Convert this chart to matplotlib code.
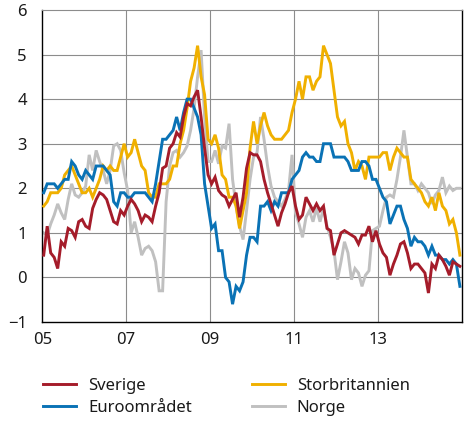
import matplotlib
matplotlib.use("Agg")
import matplotlib.pyplot as plt
import numpy as np

plt.rcParams['font.family'] = ['Noto Sans', 'DejaVu Sans']

years = list(range(2005, 2015))
tick_years = [2005, 2007, 2009, 2011, 2013]
tick_labels = ['05', '07', '09', '11', '13']

sverige = [
    0.5, 1.15, 0.55, 0.45, 0.2, 0.8, 0.7, 1.1, 1.05, 0.9, 1.25, 1.3,
    1.15, 1.1, 1.55, 1.75, 1.9, 1.85, 1.75, 1.5, 1.25, 1.2, 1.5, 1.4,
    1.6, 1.75, 1.65, 1.5, 1.25, 1.4, 1.35, 1.25, 1.6, 1.9, 2.45, 2.5,
    2.9, 3.0, 3.25, 3.15, 3.6, 3.9, 3.85, 4.05, 4.2, 3.6, 2.9, 2.3,
    2.1, 2.25, 1.95, 1.85, 1.8, 1.6, 1.75, 1.9, 1.35, 1.8, 2.45, 2.8,
    2.75, 2.75, 2.6, 2.2, 1.9, 1.65, 1.4, 1.15, 1.45, 1.65, 1.9, 2.05,
    1.6, 1.3, 1.4, 1.8, 1.65, 1.5, 1.65, 1.5, 1.6, 1.1, 1.05, 0.5,
    0.75, 1.0, 1.05, 1.0, 0.95, 0.9, 0.75, 0.95, 0.95, 1.15, 0.8, 1.05,
    0.75, 0.55, 0.45, 0.05, 0.3, 0.5, 0.75, 0.8, 0.55, 0.2, 0.3, 0.3,
    0.2, 0.1, -0.35, 0.3, 0.2, 0.5, 0.4, 0.25, 0.05, 0.35, 0.3, 0.25,
]

euro = [
    1.9, 2.1, 2.1, 2.1, 2.0, 2.1, 2.2, 2.2, 2.6, 2.5, 2.3, 2.2,
    2.4, 2.3, 2.2, 2.5, 2.5, 2.5, 2.4, 2.3, 1.7, 1.6, 1.9, 1.9,
    1.8, 1.8, 1.9, 1.9, 1.9, 1.9, 1.8, 1.7, 2.1, 2.6, 3.1, 3.1,
    3.2, 3.3, 3.6, 3.3, 3.7, 4.0, 4.0, 3.8, 3.6, 3.2, 2.1, 1.6,
    1.1, 1.2, 0.6, 0.6, 0.0, -0.1, -0.6, -0.2, -0.3, -0.1, 0.5, 0.9,
    0.9, 0.8, 1.6, 1.6, 1.7, 1.5, 1.7, 1.6, 1.9, 1.9, 1.9, 2.2,
    2.3, 2.4, 2.7, 2.8, 2.7, 2.7, 2.6, 2.6, 3.0, 3.0, 3.0, 2.7,
    2.7, 2.7, 2.7, 2.6, 2.4, 2.4, 2.4, 2.6, 2.6, 2.5, 2.2, 2.2,
    2.0, 1.8, 1.7, 1.2, 1.4, 1.6, 1.6, 1.3, 1.1, 0.7, 0.9, 0.8,
    0.8, 0.7, 0.5, 0.7, 0.5, 0.5, 0.4, 0.4, 0.3, 0.4, 0.3, -0.2,
]

storbritannien = [
    1.6, 1.7, 1.9, 1.9, 1.9, 2.0, 2.3, 2.4, 2.5, 2.3, 2.1, 1.9,
    1.9, 2.0, 1.8, 2.0, 2.2, 2.5, 2.4, 2.5, 2.4, 2.4, 2.7, 3.0,
    2.7, 2.8, 3.1, 2.8, 2.5, 2.4, 1.9, 1.8, 1.8, 2.1, 2.1, 2.1,
    2.2, 2.5, 2.5, 3.0, 3.3, 3.8, 4.4, 4.7, 5.2, 4.5, 4.1, 3.1,
    3.0, 3.2, 2.9, 2.3, 2.2, 1.8, 1.8, 1.6, 1.1, 1.5, 1.9, 2.9,
    3.5, 3.0, 3.4, 3.7, 3.4, 3.2, 3.1, 3.1, 3.1, 3.2, 3.3, 3.7,
    4.0, 4.4, 4.0, 4.5, 4.5, 4.2, 4.4, 4.5, 5.2, 5.0, 4.8, 4.2,
    3.6, 3.4, 3.5, 3.0, 2.8, 2.4, 2.6, 2.5, 2.2, 2.7, 2.7, 2.7,
    2.7, 2.8, 2.8, 2.4, 2.7, 2.9, 2.8, 2.7, 2.7, 2.2, 2.1, 2.0,
    1.9, 1.7, 1.6, 1.8, 1.5, 1.9, 1.6, 1.5, 1.2, 1.3, 1.0, 0.5,
]

norge = [
    1.0, 0.95, 1.2, 1.4, 1.65, 1.45, 1.3, 1.75, 2.1, 1.85, 1.8, 1.9,
    2.05, 2.75, 2.4, 2.85, 2.6, 2.4, 2.1, 2.4, 2.95, 3.0, 2.85, 2.35,
    1.95, 1.0, 1.25, 0.9, 0.5, 0.65, 0.7, 0.6, 0.35, -0.3, -0.3, 1.7,
    2.5, 2.8, 2.85, 2.7, 2.8, 2.95, 3.3, 3.8, 4.5, 5.1, 3.6, 2.6,
    2.6, 2.85, 2.55, 2.95, 2.9, 3.45, 2.2, 1.6, 1.15, 0.85, 1.5, 2.2,
    2.7, 2.8, 3.6, 3.1, 2.5, 2.05, 1.8, 1.7, 1.6, 1.75, 1.95, 2.75,
    1.45, 1.2, 0.9, 1.35, 1.5, 1.25, 1.55, 1.25, 1.55, 1.15, 0.9, 0.6,
    -0.05, 0.35, 0.8, 0.55, -0.05, 0.2, 0.1, -0.2, 0.05, 0.15, 1.05, 1.1,
    1.15, 1.5, 1.8, 1.85, 1.8, 2.2, 2.7, 3.3, 2.7, 2.1, 2.1, 1.95,
    2.1, 2.0, 1.9, 1.65, 1.85, 1.95, 2.25, 1.9, 2.05, 1.95, 2.0, 2.0,
]

n = len(euro)
x = years[0] + (np.arange(n) + 0.4) / 12.0

fig = plt.figure(figsize=(4.70, 4.22), dpi=100)
ax = fig.add_axes([42.3 / 470, 1 - 322 / 422, (462 - 42.3) / 470, (322 - 10) / 422])

grid_c = '#8c8c8c'
for yv in range(0, 6):
    ax.axhline(yv, color=grid_c, lw=0.8, zorder=1)
for xv in tick_years[1:]:
    ax.axvline(xv, color=grid_c, lw=0.8, zorder=1)

lw = 2.1
ax.plot(x, norge, color='#c0c0c0', lw=lw, label='Norge', zorder=2, solid_joinstyle='miter')
ax.plot(x, storbritannien, color='#f0b000', lw=lw, label='Storbritannien', zorder=3, solid_joinstyle='miter')
ax.plot(x, euro, color='#0a72b5', lw=lw, label='Euroområdet', zorder=4, solid_joinstyle='miter')
ax.plot(x, sverige, color='#a51c2a', lw=lw, label='Sverige', zorder=5, solid_joinstyle='miter')

ax.set_xlim(2005, 2015)
ax.set_ylim(-1, 6)
ax.set_xticks(tick_years)
ax.set_xticklabels(tick_labels)
ax.set_yticks(range(-1, 7))
ax.tick_params(axis='both', length=0, labelsize=12, colors='#1a1a1a')
ax.tick_params(axis='y', pad=11)
ax.tick_params(axis='x', pad=7.5)

for s in ['left', 'bottom', 'right']:
    ax.spines[s].set_color('black')
    ax.spines[s].set_linewidth(1.0)
ax.spines['top'].set_color(grid_c)
ax.spines['top'].set_linewidth(0.8)

h, l = ax.get_legend_handles_labels()
order = ['Sverige', 'Euroområdet', 'Storbritannien', 'Norge']
hd = dict(zip(l, h))
leg = fig.legend([hd[k] for k in order], order, ncol=2, loc='upper left',
                 bbox_to_anchor=(43 / 470, 1 - 378 / 422), frameon=False,
                 fontsize=12, handlelength=2.0, handletextpad=0.7,
                 columnspacing=3.6, labelspacing=0.35, borderpad=0, borderaxespad=0)
for t in leg.get_texts():
    t.set_color('#1a1a1a')

fig.savefig('out.png', dpi=100)
